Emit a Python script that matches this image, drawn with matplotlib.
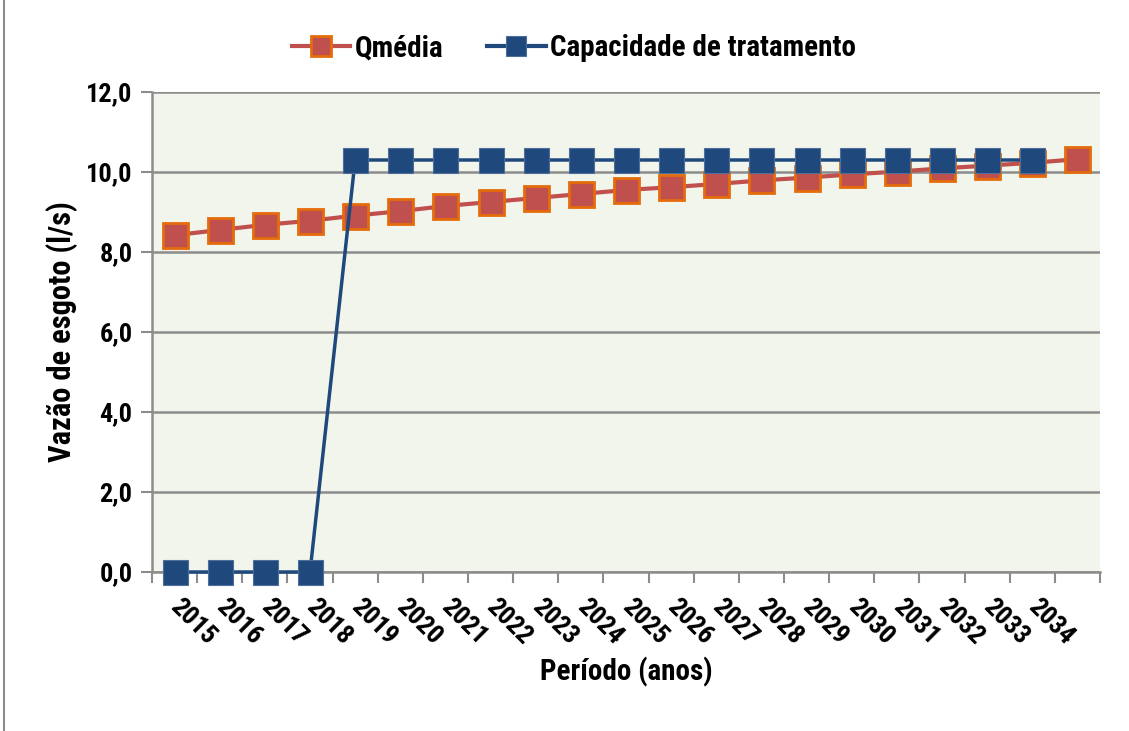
import matplotlib

matplotlib.use("Agg")
import matplotlib.pyplot as plt
import numpy as np
from matplotlib.lines import Line2D
from matplotlib.patches import Rectangle

plt.rcParams["font.family"] = ["Roboto Condensed", "Liberation Sans Narrow", "Roboto", "DejaVu Sans"]
plt.rcParams["font.weight"] = "bold"
plt.rcParams["axes.labelweight"] = "bold"

# 21 categories on the axis, only the first 20 carry a year label
year_labels = [str(y) for y in range(2015, 2035)] + [""]
qmedia = [8.42, 8.55, 8.68, 8.78, 8.91, 9.02, 9.15, 9.25, 9.35, 9.45, 9.55,
          9.62, 9.70, 9.79, 9.86, 9.94, 10.01, 10.09, 10.16, 10.23, 10.32]
capacidade = [0.0, 0.0, 0.0, 0.0] + [10.3] * 16
y_ticks = [0, 2, 4, 6, 8, 10, 12]

RED = "#C0504D"
ORANGE = "#E46C0A"
BLUE = "#1F497D"
GRID = "#8C8C8C"

fig = plt.figure(figsize=(11.29, 7.31), dpi=100)
ax = fig.add_axes([152 / 1129, 1 - 572 / 731, (1100 - 152) / 1129, (572 - 92) / 731])
ax.set_facecolor("#F2F5EB")

x_red = np.arange(len(qmedia))
x_blue = np.arange(len(capacidade))
ax.plot(x_red, qmedia, color=RED, lw=3, marker="s", ms=18,
        mfc=RED, mec=ORANGE, mew=2, zorder=3, label="Qmédia", clip_on=False)
ax.plot(x_blue, capacidade, color=BLUE, lw=2.5, marker="s", ms=18,
        mfc=BLUE, mec="#4F6F9A", mew=0.8, zorder=4, label="Capacidade de tratamento",
        clip_on=False)

ax.set_xlim(-0.5, len(year_labels) - 0.5)
ax.set_ylim(0, 12)
ax.set_yticks(y_ticks)
ax.set_yticklabels([f"{v:.1f}".replace(".", ",") for v in y_ticks], fontsize=19)
ax.yaxis.grid(True, color=GRID, lw=1.8)
ax.set_axisbelow(True)

# boundary ticks without labels, category-centre labels without ticks
ax.set_xticks(np.arange(len(year_labels) + 1) - 0.5)
ax.set_xticklabels([])
ax.set_xticks(np.arange(len(year_labels)), minor=True)
ax.set_xticklabels(year_labels, minor=True, rotation=-45, rotation_mode="anchor",
                   ha="left", va="center", fontsize=19)
ax.tick_params(axis="x", which="major", length=8, color=GRID, width=1.5)
ax.tick_params(axis="x", which="minor", length=0, pad=22)
ax.tick_params(axis="y", length=8, color=GRID, width=1.5, pad=6)

for side in ("top", "right"):
    ax.spines[side].set_visible(False)
for side in ("left", "bottom"):
    ax.spines[side].set_color(GRID)
    ax.spines[side].set_linewidth(1.8)

ax.set_ylabel("Vazão de esgoto (l/s)", fontsize=22, labelpad=6)
ax.set_xlabel("Período (anos)", fontsize=21, labelpad=6)

handles = [
    Line2D([], [], color=RED, lw=3, marker="s", ms=14, mfc=RED, mec=ORANGE, mew=2),
    Line2D([], [], color=BLUE, lw=3, marker="s", ms=14, mfc=BLUE, mec="#4F6F9A", mew=0.8),
]
fig.legend(handles, ["Qmédia", "Capacidade de tratamento"], loc="center",
           bbox_to_anchor=(574 / 1129, 1 - 48 / 731), ncol=2, frameon=False,
           fontsize=21, handlelength=2.0, columnspacing=1.5, handletextpad=0.15)

fig.patches.append(Rectangle((4 / 1129, -0.2), 1.2, 1.2 + (1 - 10 / 731),
                             transform=fig.transFigure, fill=False,
                             edgecolor="#8C8C8C", lw=1.5))

fig.savefig("out.png", dpi=100)
